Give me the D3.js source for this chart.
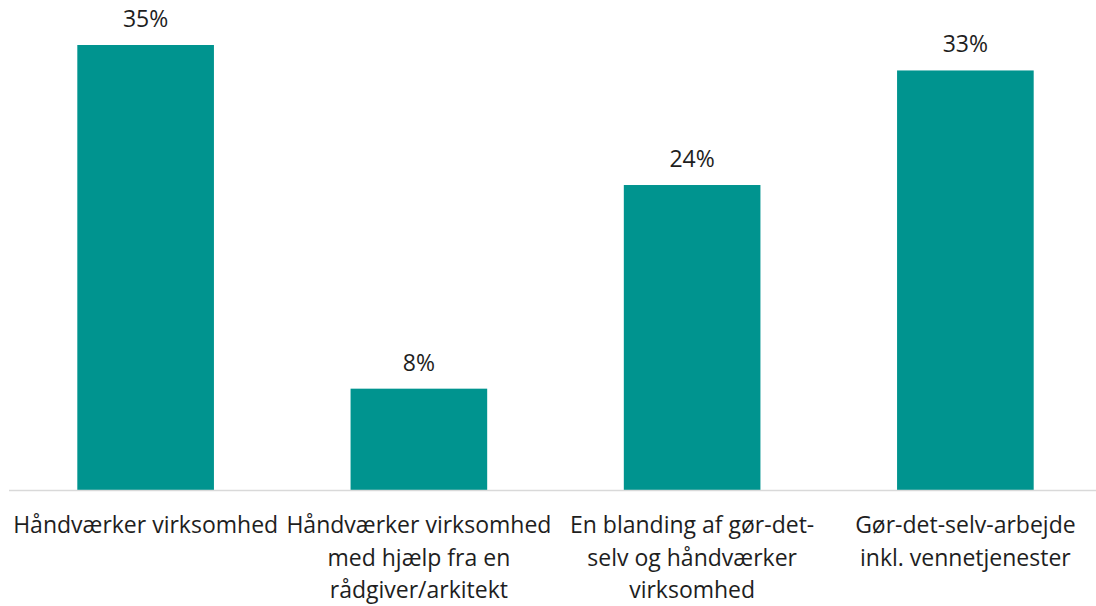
<!DOCTYPE html>
<html>
<head>
<meta charset="utf-8">
<script src="https://cdn.jsdelivr.net/npm/d3@7"></script>
<style>
  html, body { margin: 0; padding: 0; background: #fff; }
  svg { display: block; }
  text { font-family: "Open Sans", "Noto Sans", sans-serif; fill: #1e1e1e; }
</style>
</head>
<body>
<svg id="chart" width="1096" height="606"></svg>
<script>
// Category labels (one entry per line of each wrapped label)
const categories = [
  ["Håndværker virksomhed"],
  ["Håndværker virksomhed", "med hjælp fra en", "rådgiver/arkitekt"],
  ["En blanding af gør-det-", "selv og håndværker", "virksomhed"],
  ["Gør-det-selv-arbejde", "inkl. vennetjenester"]
];
const values = [35, 8, 24, 33];
const valueLabels = ["35%", "8%", "24%", "33%"];

const width = 1096, height = 606;
const baseline = 490.5;
const svg = d3.select("#chart");

const x = d3.scaleBand()
  .domain(d3.range(categories.length))
  .range([9, 1102])
  .paddingInner(0.5)
  .paddingOuter(0.25);

const y = d3.scaleLinear()
  .domain([0, 35])
  .range([baseline, 45]);

// Bars
svg.append("g").selectAll("rect")
  .data(values)
  .join("rect")
  .attr("x", (d, i) => x(i))
  .attr("width", x.bandwidth())
  .attr("y", d => y(d))
  .attr("height", d => y(0) - y(d))
  .attr("fill", "#00948F");

// Baseline axis
const axis = svg.append("g")
  .attr("transform", `translate(0,${baseline})`)
  .call(d3.axisBottom(x).tickSize(0).tickFormat(""));
axis.select(".domain").attr("stroke", "#d9d9d9").attr("stroke-width", 1.5)
  .attr("d", `M9,0H1096`);

// Value labels
svg.append("g").selectAll("text")
  .data(values)
  .join("text")
  .attr("x", (d, i) => x(i) + x.bandwidth() / 2)
  .attr("y", d => y(d) - 18)
  .attr("text-anchor", "middle")
  .style("font-size", "23px")
  .text((d, i) => valueLabels[i]);

// Category labels
const catG = svg.append("g").selectAll("text")
  .data(categories)
  .join("text")
  .attr("text-anchor", "middle")
  .style("font-size", "23px")
  .attr("transform", (d, i) => `translate(${x(i) + x.bandwidth() / 2},533)`);
catG.selectAll("tspan")
  .data(d => d)
  .join("tspan")
  .attr("x", 0)
  .attr("y", (d, j) => j * 32.5)
  .text(d => d);
</script>
</body>
</html>
